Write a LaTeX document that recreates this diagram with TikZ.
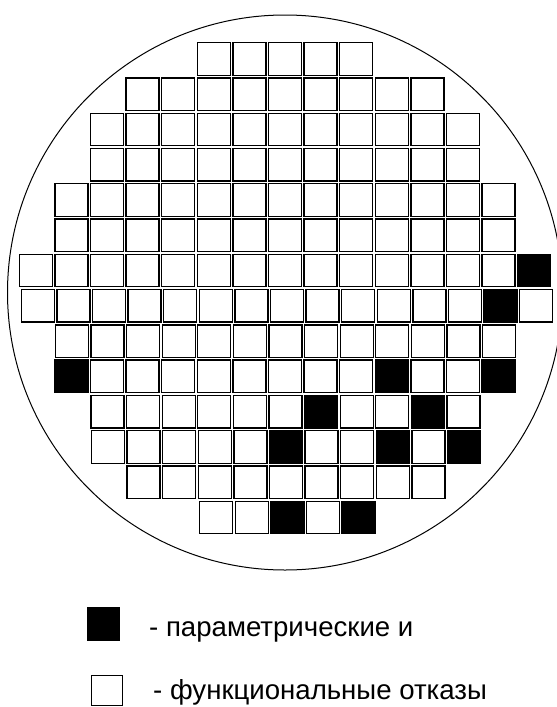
\documentclass[tikz,border=0pt]{standalone}
\usepackage{fontspec}
\setmainfont{Liberation Sans}
\begin{document}
\begin{tikzpicture}[x=1pt,y=-1pt,
  cell/.style={draw=black,line width=1.3pt,minimum width=33pt,minimum height=32.5pt,inner sep=0pt,outer sep=0pt},
  wafer/.style={draw=black,line width=1pt},
  legendtext/.style={anchor=base west,inner sep=0pt,font=\fontsize{27.6pt}{31pt}\selectfont}]
\useasboundingbox (0,0) rectangle (557,707);
\clip (0,0) rectangle (557,707);
\draw[wafer] (285,292.5) circle[radius=277.5];
% black cells
\foreach \r/\c in {7/15,8/14,10/2,10/11,10/14,11/9,11/12,12/8,12/11,12/13,14/8,14/10}{
  \expandafter\gdef\csname blk-\r-\c\endcsname{}
}
\foreach \r/\a/\b/\o in {1/6/10/0,2/4/12/0,3/3/13/0,4/3/13/0,5/2/14/0,6/2/14/0,7/1/15/0,8/1/15/2,9/2/14/0.5,10/2/14/0,11/3/13/0.5,12/3/13/1,13/4/12/1,14/6/10/2.4}{
  \foreach \c in {\a,...,\b}{
    \ifcsname blk-\r-\c\endcsname\gdef\cellfill{black}\else\gdef\cellfill{white}\fi
    \node[cell,fill=\cellfill] (r\r c\c) at ({19.3+35.6*(\c-1)+16.5+\o},{42.7+35.27*(\r-1)+16.25}) {};
  }
}
% legend
\node[fill=black,minimum width=33pt,minimum height=34pt,inner sep=0pt,outer sep=0pt] (lgblack) at (103.5,624) {};
\node[draw=black,line width=1pt,fill=white,minimum width=31pt,minimum height=30pt,inner sep=0pt,outer sep=0pt] (lgwhite) at (106.8,690.5) {};
\node[legendtext] (t1) at (149,636.7) {- параметрические и};
\node[legendtext] (t2) at (153,699.3) {- функциональные отказы};
\end{tikzpicture}
\end{document}
